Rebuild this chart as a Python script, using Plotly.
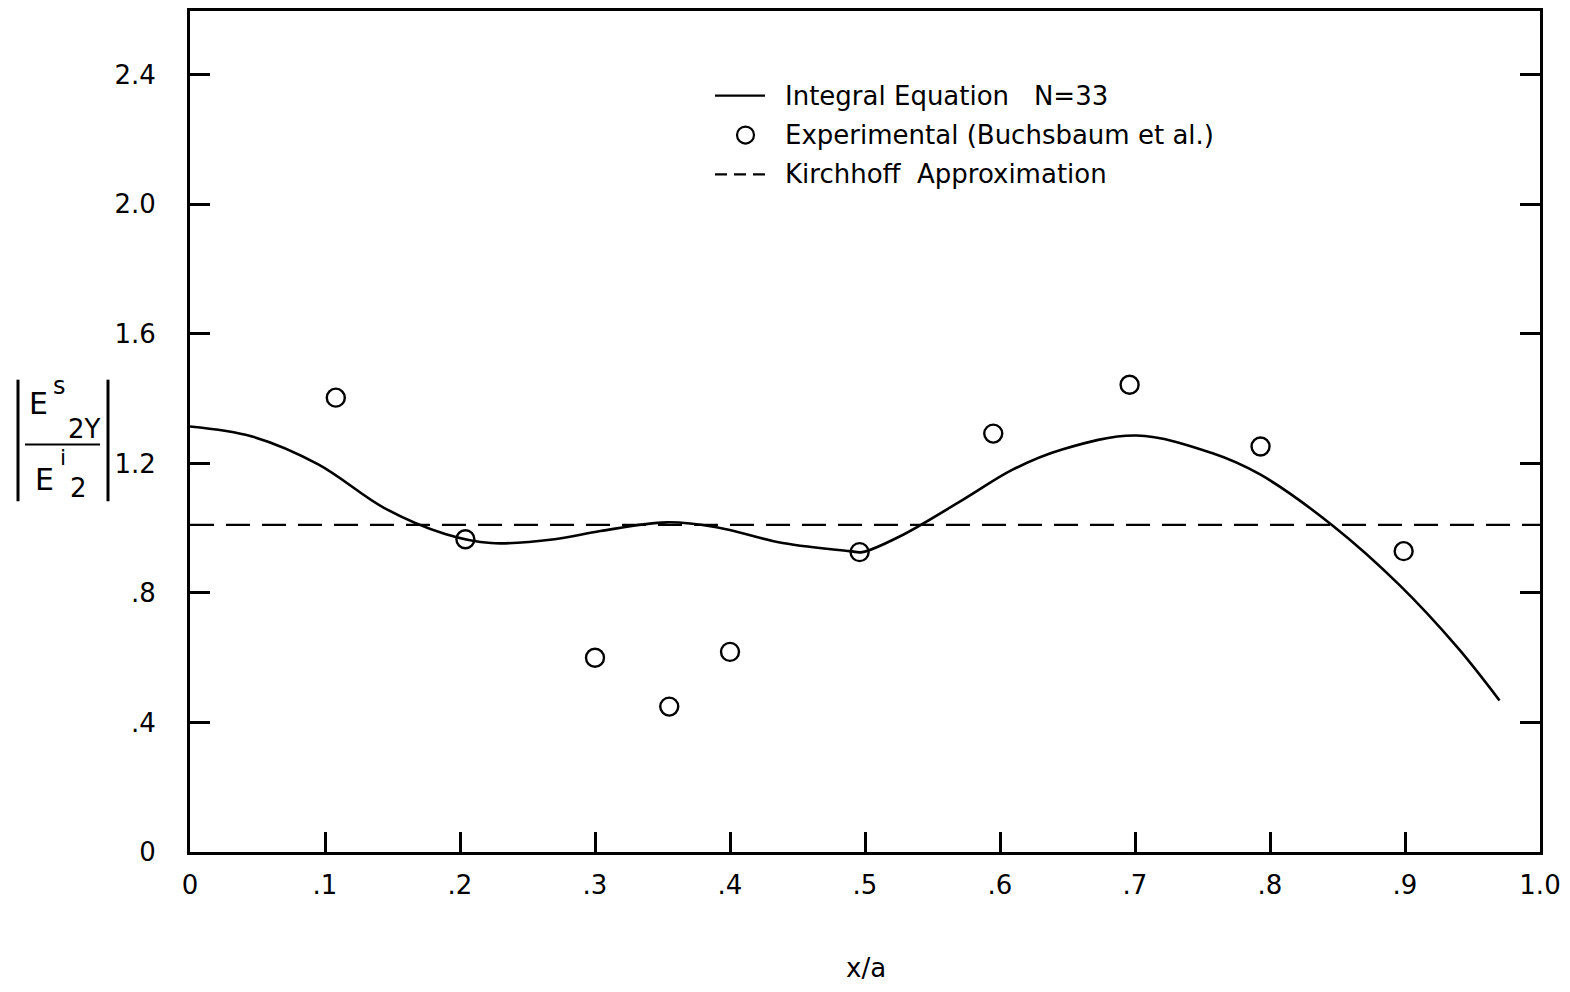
import plotly.graph_objects as go

# Integral-equation solution (solid curve)
curve_x = [0, 0.046, 0.095, 0.144, 0.189, 0.223, 0.270, 0.304, 0.353, 0.390,
           0.439, 0.489, 0.498, 0.526, 0.573, 0.609, 0.646, 0.701, 0.757, 0.793,
           0.847, 0.896, 0.939, 0.970]
curve_y = [1.314, 1.283, 1.197, 1.062, 0.982, 0.954, 0.966, 0.991, 1.018, 1.003,
           0.954, 0.929, 0.926, 0.975, 1.089, 1.180, 1.243, 1.286, 1.232, 1.165,
           1.006, 0.824, 0.631, 0.468]

# Measured values (open circles)
exp_x = [0.108, 0.204, 0.300, 0.355, 0.400, 0.496, 0.595, 0.696, 0.793, 0.899]
exp_y = [1.403, 0.966, 0.600, 0.449, 0.618, 0.926, 1.292, 1.443, 1.252, 0.929]

# Kirchhoff approximation (dashed horizontal)
kirch_x = [0.0, 1.0]
kirch_y = [1.01, 1.01]

x_ticks = [0, 0.1, 0.2, 0.3, 0.4, 0.5, 0.6, 0.7, 0.8, 0.9, 1.0]
x_labels = ["0", ".1", ".2", ".3", ".4", ".5", ".6", ".7", ".8", ".9", "1.0"]
y_ticks = [0, 0.4, 0.8, 1.2, 1.6, 2.0, 2.4]
y_labels = ["0", ".4", ".8", "1.2", "1.6", "2.0", "2.4"]

legend_labels = ["Integral Equation   N=33",
                 "Experimental (Buchsbaum et al.)",
                 "Kirchhoff  Approximation"]

FONT = "DejaVu Sans"
W, H = 1570, 992
L, R, T, B = 190, 30, 8, 140
PW, PH = W - L - R, H - T - B


def px(x):
    return (x - L) / PW


def py(y):
    return (H - B - y) / PH


fig = go.Figure()

fig.add_trace(go.Scatter(
    x=curve_x, y=curve_y, mode="lines", name=legend_labels[0],
    line=dict(color="black", width=2.6, shape="spline", smoothing=1.0),
))
fig.add_trace(go.Scatter(
    x=exp_x, y=exp_y, mode="markers", name=legend_labels[1],
    marker=dict(symbol="circle-open", size=18, color="black",
                line=dict(width=2.4, color="black")),
))
fig.add_trace(go.Scatter(
    x=kirch_x, y=kirch_y, mode="lines", name=legend_labels[2],
    line=dict(color="black", width=2.2, dash="24px,12px"),
))

axis_common = dict(
    showgrid=False, zeroline=False, showline=True, linecolor="black",
    linewidth=3, ticks="inside", tickcolor="black", tickwidth=2.5,
    ticklen=20, tickfont=dict(family=FONT, size=26, color="black"),
)

fig.update_xaxes(range=[0, 1.0], tickvals=x_ticks, ticktext=x_labels,
                 mirror=True, ticklabelstandoff=8, **axis_common)
fig.update_yaxes(range=[0, 2.597], tickvals=y_ticks, ticktext=y_labels,
                 mirror="ticks", ticklabelstandoff=26, **axis_common)


def label(text, x, y, size, anchor="center"):
    return dict(text=text, x=px(x), y=py(y), xref="paper", yref="paper",
                xanchor=anchor, yanchor="middle", showarrow=False,
                font=dict(family=FONT, size=size, color="black"))


annotations = [
    label("x/a", 866, 968, 26),
    # |E^s_2Y / E^i_2| built from pieces
    label("E", 38, 402, 30),
    label("s", 59, 384, 24),
    label("2Y", 84, 427, 26),
    label("E", 44, 478, 30),
    label("i", 63, 456, 22),
    label("2", 78, 487, 26),
    # legend texts
    label(legend_labels[0], 783, 93, 26, "left"),
    label(legend_labels[1], 783, 132, 26, "left"),
    label(legend_labels[2], 783, 172, 26, "left"),
]

shapes = [
    dict(type="line", xref="paper", yref="paper", x0=px(25), x1=px(100),
         y0=py(443), y1=py(443), line=dict(color="black", width=2)),
    dict(type="line", xref="paper", yref="paper", x0=px(18), x1=px(18),
         y0=py(378), y1=py(500), line=dict(color="black", width=3)),
    dict(type="line", xref="paper", yref="paper", x0=px(108), x1=px(108),
         y0=py(378), y1=py(500), line=dict(color="black", width=3)),
    # legend samples
    dict(type="line", xref="paper", yref="paper", x0=px(715), x1=px(765),
         y0=py(93), y1=py(93), line=dict(color="black", width=2.2)),
    dict(type="circle", xref="paper", yref="paper", x0=px(737), x1=px(754),
         y0=py(124), y1=py(141), line=dict(color="black", width=2.2)),
    dict(type="line", xref="paper", yref="paper", x0=px(715), x1=px(765),
         y0=py(172), y1=py(172),
         line=dict(color="black", width=2.2, dash="12px,7px")),
]

fig.update_layout(
    width=W, height=H,
    margin=dict(l=L, r=R, t=T, b=B),
    paper_bgcolor="white", plot_bgcolor="white",
    font=dict(family=FONT, color="black"),
    showlegend=False,
    annotations=annotations,
    shapes=shapes,
)

fig.write_html("out.html")
